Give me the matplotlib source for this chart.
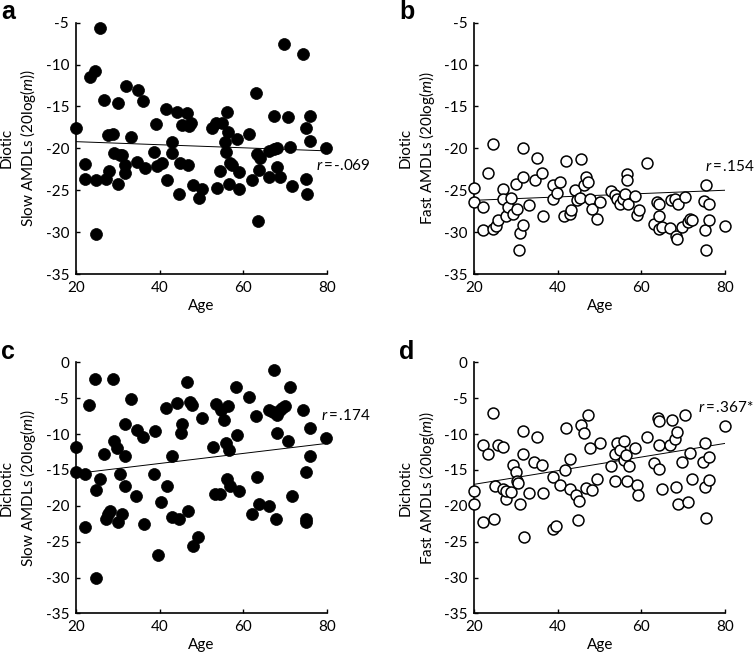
import numpy as np
import matplotlib
matplotlib.use("Agg")
import matplotlib.pyplot as plt

plt.rcParams['font.family'] = ['Lato', 'DejaVu Sans']
plt.rcParams['mathtext.fontset'] = 'custom'
plt.rcParams['mathtext.rm'] = 'Lato'
plt.rcParams['mathtext.it'] = 'Lato:italic'
plt.rcParams['axes.unicode_minus'] = False

# panel a - diotic slow AMDLs (filled)
age_a = [20, 22.2, 22.2, 23.4, 24.5, 24.8, 24.7, 25.7, 26.7, 27.2, 27.9, 27.7, 28.8, 29.2,
         30.0, 30.1, 30.5, 31.0, 31.7, 31.8, 31.9, 33.1, 34.5, 34.8, 36.1, 36.5, 39.1, 38.7,
         39.3, 40.5, 41.6, 41.9, 42.9, 42.9, 44.1, 44.7, 44.9, 45.3, 46.5, 46.9, 47.1, 47.5,
         47.9, 49.5, 50.1, 52.6, 53.5, 53.7, 54.5, 54.9, 55.7, 55.9, 56.1, 56.5, 56.9, 56.7,
         57.4, 58.5, 58.9, 59.0, 61.3, 62.2, 63.1, 63.4, 63.7, 63.5, 64.1, 66.1, 66.3, 67.3,
         67.4, 68.0, 68.0, 68.8, 69.8, 70.8, 71.2, 71.6, 74.4, 75.1, 75.1, 75.2, 75.9, 75.9, 79.9]
amdl_a = [-17.6, -21.9, -23.6, -11.5, -10.8, -23.8, -30.2, -5.6, -14.2, -23.7, -22.7, -18.4, -18.3, -20.6,
          -14.6, -24.2, -20.8, -20.8, -23.0, -22.0, -12.5, -18.6, -21.6, -13.0, -14.4, -22.3, -17.1, -20.4,
          -22.1, -21.7, -15.3, -23.8, -19.3, -20.6, -15.7, -25.5, -21.8, -17.2, -15.8, -22.0, -17.3, -17.0,
          -24.4, -25.9, -24.9, -17.6, -17.0, -24.7, -22.7, -17.0, -19.2, -20.4, -15.7, -18.0, -21.7, -24.2,
          -22.0, -18.9, -22.8, -24.9, -18.3, -23.8, -13.4, -20.7, -22.6, -28.7, -21.2, -23.4, -20.3, -20.1,
          -16.1, -19.9, -22.2, -23.4, -7.6, -16.3, -19.8, -24.5, -8.7, -17.6, -23.6, -25.5, -19.1, -16.1, -19.9]

# panel b - diotic fast AMDLs (open)
age_b = [20, 20, 22.0, 22.0, 23.2, 24.5, 24.5, 25.2, 25.7, 26.8, 26.9, 27.6, 28.0, 28.8, 29.2,
         30.0, 30.1, 30.9, 30.7, 31.7, 31.7, 31.7, 33.2, 34.5, 34.9, 36.1, 36.5, 38.8, 38.9, 39.7,
         40.5, 41.5, 41.9, 42.9, 43.1, 44.1, 44.5, 45.3, 45.5, 46.3, 46.7, 47.3, 47.7, 48.1, 49.3,
         50.2, 52.6, 53.7, 54.2, 54.9, 55.5, 56.1, 56.6, 56.6, 56.9, 58.5, 58.9, 59.3, 61.3, 63.0,
         63.7, 64.3, 64.3, 64.3, 64.9, 66.8, 67.0, 68.0, 68.3, 68.4, 68.8, 69.6, 70.4, 71.2, 71.6,
         72.2, 75.0, 75.4, 75.2, 75.4, 76.2, 76.2, 79.9]
amdl_b = [-24.7, -26.4, -27.0, -29.8, -22.9, -19.5, -29.6, -29.3, -28.6, -24.9, -26.0, -28.1, -27.0, -25.9, -27.8,
          -24.2, -27.2, -30.1, -32.1, -20.0, -23.4, -29.2, -26.8, -23.8, -21.2, -22.9, -28.1, -26.0, -24.4, -25.3,
          -24.0, -28.1, -21.5, -27.8, -27.4, -25.0, -26.2, -25.9, -21.3, -24.4, -23.4, -24.0, -26.1, -27.2, -28.4,
          -26.4, -25.1, -25.6, -26.1, -26.7, -26.1, -25.4, -23.1, -23.8, -26.6, -25.7, -28.0, -27.4, -21.7, -29.0,
          -26.4, -26.6, -28.1, -29.6, -29.4, -29.5, -26.2, -26.1, -30.5, -30.8, -26.6, -29.4, -25.8, -28.8, -28.4,
          -28.5, -26.3, -24.4, -29.7, -32.1, -26.6, -28.5, -29.3]

# panel c - dichotic slow AMDLs (filled)
age_c = [20, 20, 22.2, 22.2, 23.2, 24.5, 24.7, 24.9, 25.7, 26.7, 27.2, 27.7, 28.1, 28.8, 29.2,
         29.7, 30.1, 30.5, 30.9, 31.7, 31.7, 31.8, 33.1, 34.3, 34.7, 36.0, 36.4, 38.9, 38.7, 39.7,
         40.4, 41.5, 41.7, 42.9, 42.9, 44.1, 44.7, 45.3, 45.1, 46.5, 46.8, 47.3, 47.7, 47.9, 49.3,
         50.2, 52.7, 53.3, 53.5, 54.5, 54.7, 55.5, 55.8, 56.1, 56.5, 56.7, 56.9, 58.3, 58.6, 59.1,
         61.3, 62.2, 63.0, 63.4, 63.7, 66.1, 66.3, 67.1, 67.4, 67.9, 68.0, 68.0, 68.8, 69.4, 70.0,
         70.8, 71.2, 71.6, 74.4, 75.0, 75.1, 75.1, 75.9, 75.9, 79.9]
amdl_c = [-11.8, -15.3, -15.6, -23.0, -5.9, -2.3, -30.0, -17.8, -16.3, -12.8, -21.8, -21.1, -20.7, -2.3, -10.9,
          -12.0, -22.2, -15.6, -21.1, -13.1, -17.3, -8.6, -5.1, -18.7, -9.4, -10.4, -22.6, -9.6, -15.6, -26.8,
          -19.5, -6.4, -17.3, -13.1, -21.5, -5.6, -21.9, -8.6, -9.8, -2.8, -20.7, -5.5, -6.0, -25.6, -24.3,
          -7.8, -11.8, -18.3, -5.8, -18.3, -6.7, -8.0, -11.3, -16.2, -6.1, -12.2, -17.2, -3.4, -10.1, -18.0,
          -4.8, -21.2, -7.5, -16.0, -19.8, -20.0, -6.7, -6.9, -1.0, -21.8, -9.8, -7.3, -6.7, -6.4, -6.1,
          -10.9, -3.5, -18.7, -6.6, -15.3, -21.9, -22.3, -9.1, -13.1, -10.6]

# panel d - dichotic fast AMDLs (open)
age_d = [20, 20, 22.0, 22.0, 23.2, 24.5, 24.8, 24.9, 25.7, 26.8, 26.9, 27.6, 27.7, 28.8, 29.2,
         30.0, 30.1, 30.5, 30.9, 31.7, 31.7, 31.9, 33.2, 34.3, 34.9, 36.1, 36.5, 38.8, 38.9, 39.6,
         40.5, 41.7, 41.9, 42.9, 42.9, 44.3, 44.8, 45.1, 45.5, 46.3, 46.7, 47.3, 47.7, 48.1, 49.3,
         50.1, 52.6, 53.7, 53.7, 54.2, 54.9, 55.8, 55.8, 56.4, 56.6, 57.0, 58.5, 58.9, 59.1, 61.3,
         63.0, 63.9, 64.3, 64.3, 64.3, 64.9, 66.8, 67.2, 68.0, 68.4, 68.3, 68.8, 69.6, 70.4, 71.2,
         71.6, 72.2, 74.8, 75.2, 75.2, 75.4, 76.2, 76.2, 79.9]
amdl_d = [-18.0, -19.8, -11.5, -22.2, -12.8, -7.1, -21.8, -17.2, -11.5, -11.8, -17.6, -19.0, -17.9, -18.1, -14.3,
          -15.3, -16.6, -16.8, -19.8, -9.6, -12.8, -24.3, -18.2, -13.9, -10.4, -14.3, -18.2, -16.0, -23.2, -22.8,
          -17.1, -15.0, -9.1, -13.5, -17.7, -18.5, -22.0, -19.4, -8.8, -9.8, -17.5, -7.3, -11.9, -17.8, -16.3,
          -11.2, -14.5, -12.8, -16.6, -11.3, -12.2, -10.9, -13.6, -12.9, -16.6, -14.5, -12.0, -17.1, -18.5, -10.4,
          -14.1, -7.7, -8.2, -11.5, -14.8, -17.7, -11.5, -8.1, -10.7, -9.7, -17.4, -19.8, -13.9, -7.4, -19.5,
          -12.7, -16.3, -13.9, -11.3, -17.4, -21.7, -13.2, -16.4, -8.9]

# regression line ends (age 20 and 80)
fit_ages = [20, 80]
fit_a = [-19.2, -20.3]
fit_b = [-26.2, -25.0]
fit_c = [-15.5, -11.3]
fit_d = [-17.0, -11.3]

r_labels = ['-.069', '.154', '.174', '.367*']
r_pos = [(77.4, -22.1), (75.2, -22.2), (78.6, -7.45), (73.5, -6.3)]

fig = plt.figure(figsize=(7.56, 6.56), dpi=100)

panels = [
    # letter, axes rect, ages, values, fit, filled, ylim, ylabel lines
    ('a', [0.1005, 0.5823, 0.3316, 0.3831], age_a, amdl_a, fit_a, True, (-35, -5), 'Diotic', 'Slow'),
    ('b', [0.6274, 0.5823, 0.3316, 0.3831], age_b, amdl_b, fit_b, False, (-35, -5), 'Diotic', 'Fast'),
    ('c', [0.1005, 0.0650, 0.3316, 0.3826], age_c, amdl_c, fit_c, True, (-35, 0), 'Dichotic', 'Slow'),
    ('d', [0.6274, 0.0650, 0.3316, 0.3826], age_d, amdl_d, fit_d, False, (-35, 0), 'Dichotic', 'Fast'),
]

for i, (letter, rect, ages, vals, fit, filled, ylim, cond, speed) in enumerate(panels):
    ax = fig.add_axes(rect)
    if filled:
        ax.scatter(ages, vals, s=74, facecolor='black', edgecolor='black', linewidth=0.5,
                   clip_on=False, zorder=3)
    else:
        ax.scatter(ages, vals, s=62, facecolor='white', edgecolor='black', linewidth=1.1,
                   clip_on=False, zorder=3)
    ax.plot(fit_ages, fit, color='black', lw=0.7, zorder=2)

    ax.set_xlim(20, 80)
    ax.set_ylim(*ylim)
    ax.set_xticks([20, 40, 60, 80])
    ax.set_yticks(np.arange(ylim[0], ylim[1] + 1, 5))
    ax.spines['top'].set_visible(False)
    ax.spines['right'].set_visible(False)
    ax.spines['left'].set_linewidth(1.2)
    ax.spines['bottom'].set_linewidth(1.2)
    ax.tick_params(direction='in', length=3, width=1.0, labelsize=11, pad=5)

    ax.set_xlabel('Age', fontsize=11, labelpad=3)
    ax.set_ylabel(cond + '\n' + speed + r' AMDLs (20log($\it{m}$))', fontsize=11, linespacing=1.3)
    ax.yaxis.set_label_coords(-0.15, 0.5)

    ax.text(r_pos[i][0], r_pos[i][1], r'$\it{r}$' + '\u2009=\u2009' + r_labels[i],
            fontsize=11, va='center')

    # panel letter, baseline a few px above the top of the y axis
    fig.text(rect[0] - 0.1005 + 0.001, rect[1] + rect[3] + 0.0049, letter, fontsize=18,
             fontweight='bold', family='Liberation Sans', va='baseline')

fig.savefig('out.png', dpi=100)
